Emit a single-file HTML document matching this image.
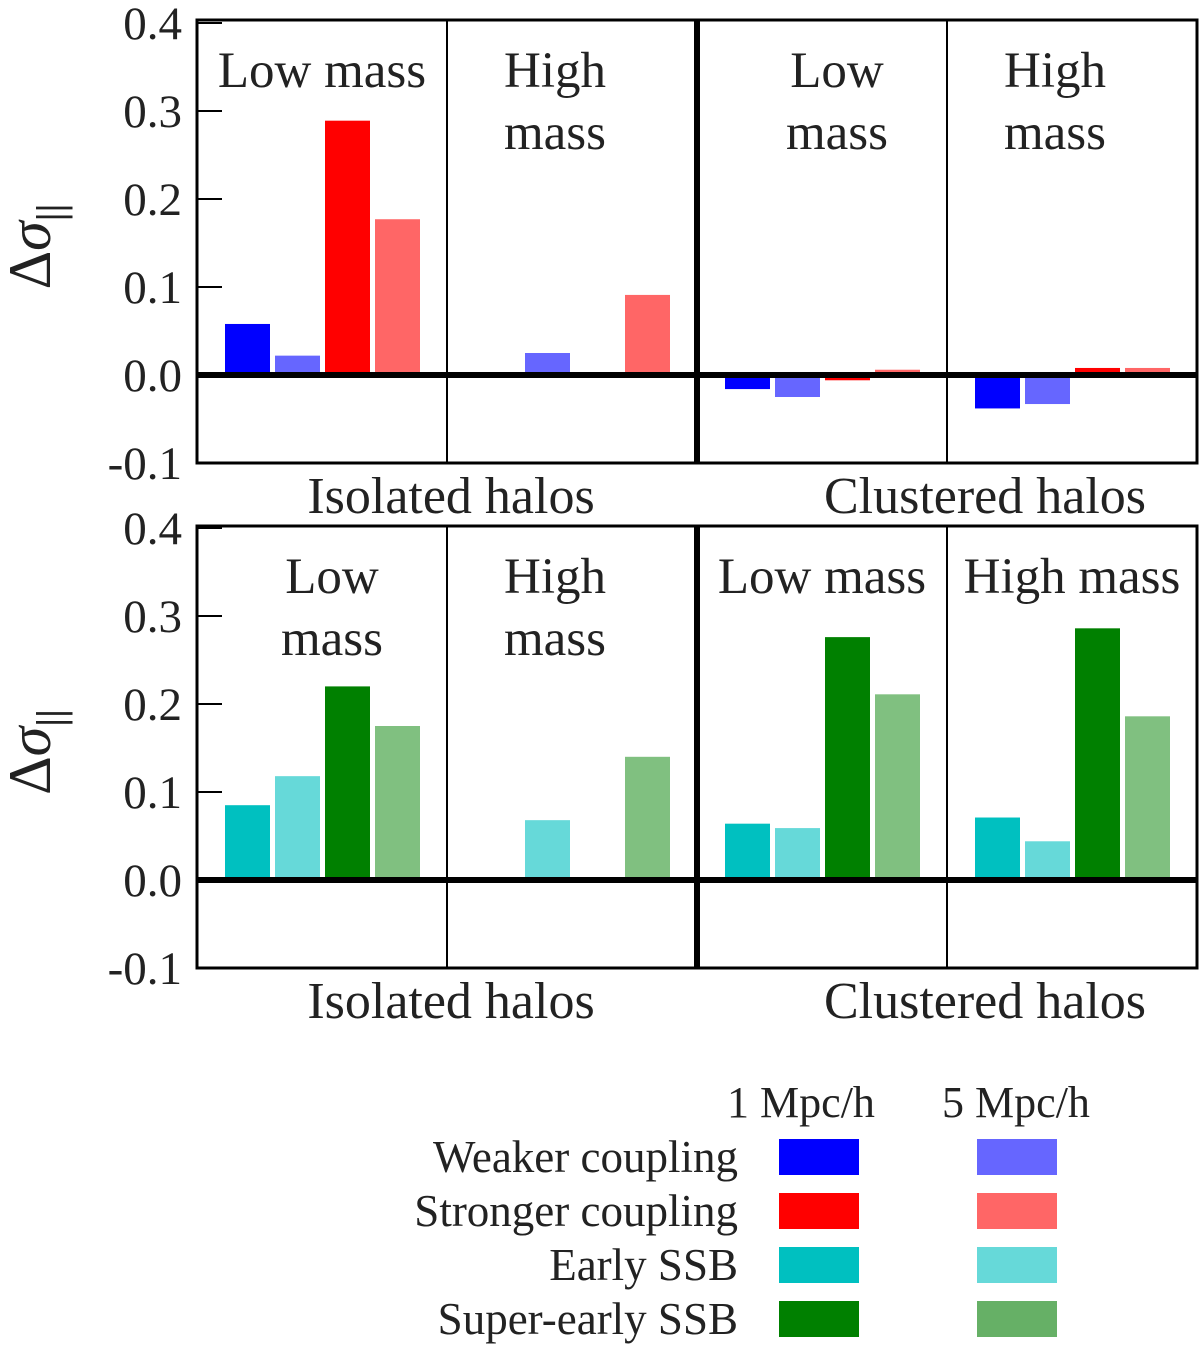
<!DOCTYPE html>
<html><head><meta charset="utf-8"><style>
body{margin:0;background:#fff}
svg text{font-family:"Liberation Serif",serif;fill:#222}
</style></head><body>
<svg width="1200" height="1348" viewBox="0 0 1200 1348" xmlns="http://www.w3.org/2000/svg">
<g id="root"></g>
</svg>
<script>
const sections = ["iso-low","iso-high","clu-low","clu-high"];
const topWeak1 = [0.058, 0, -0.016, -0.038];
const topWeak5 = [0.022, 0.025, -0.025, -0.033];
const topStrong1 = [0.289, 0, -0.006, 0.008];
const topStrong5 = [0.177, 0.091, 0.006, 0.008];
const botEarly1 = [0.085, 0, 0.064, 0.071];
const botEarly5 = [0.118, 0.068, 0.059, 0.044];
const botSuper1 = [0.220, 0, 0.276, 0.286];
const botSuper5 = [0.175, 0.140, 0.211, 0.186];
const yTicks = [0.4,0.3,0.2,0.1,0.0,-0.1];
const yTickLabels = ["0.4","0.3","0.2","0.1","0.0","-0.1"];
const topTitles = [["Low mass"],["High","mass"],["Low","mass"],["High","mass"]];
const botTitles = [["Low","mass"],["High","mass"],["Low mass"],["High mass"]];

const NS="http://www.w3.org/2000/svg";
const root=document.getElementById('root');
function el(tag,attrs,parent){const e=document.createElementNS(NS,tag);for(const k in attrs)e.setAttribute(k,attrs[k]);(parent||root).appendChild(e);return e;}

function panel(top, zeroY, series, colors, titles, pname){
  const g=el('g',{});
  
  
  const left=197,right=1197,bottom=zeroY+88;
  const y=v=>zeroY-v*880;
  const secX=i=>left+i*250;
  series.forEach((arr,si)=>{
    arr.forEach((v,i)=>{
      if(v===0)return;
      const x=secX(i)+28+si*50;
      const r=el('rect',{x:x,y:Math.min(y(v),zeroY),width:45,height:Math.abs(y(v)-zeroY),fill:colors[si]},g);
      
      
    });
  });
  el('rect',{x:left,y:top,width:right-left,height:bottom-top,fill:'none',stroke:'#000','stroke-width':3},g);
  el('line',{x1:secX(1),y1:top,x2:secX(1),y2:bottom,stroke:'#000','stroke-width':2},g);
  el('line',{x1:secX(3),y1:top,x2:secX(3),y2:bottom,stroke:'#000','stroke-width':2},g);
  el('line',{x1:secX(2),y1:top,x2:secX(2),y2:bottom,stroke:'#000','stroke-width':6},g);
  el('line',{x1:left,y1:zeroY,x2:right,y2:zeroY,stroke:'#000','stroke-width':6},g);
  yTicks.forEach((t,i)=>{
    el('line',{x1:left,y1:y(t),x2:left+25,y2:y(t),stroke:'#000','stroke-width':2},g);
    const tx=el('text',{x:182,y:y(t)+16,'text-anchor':'end','font-size':47},g);
    tx.textContent=yTickLabels[i];
    
    
  });
  titles.forEach((lines,i)=>{
    lines.forEach((s,j)=>{
      const tx=el('text',{x:secX(i)+(lines.length===1?125:(i===0?135:i===2?140:108)),y:top+67+j*62,'text-anchor':'middle','font-size':51},g);
      tx.textContent=s;
      
      
    });
  });
  const a=el('text',{x:451,y:bottom+50,'text-anchor':'middle','font-size':52},g);a.textContent="Isolated halos";
  
  const b=el('text',{x:985,y:bottom+50,'text-anchor':'middle','font-size':52},g);b.textContent="Clustered halos";
  
  const yl=el('text',{transform:`translate(50,${(top+bottom)/2+5}) rotate(-90)`,'text-anchor':'middle','font-size':60,'font-family':'"DejaVu Serif",serif'},g);
  yl.innerHTML='Δ<tspan font-style="italic">σ</tspan><tspan font-size="40" dy="14" font-weight="bold">||</tspan>';
  
}
panel(20,375,[topWeak1,topWeak5,topStrong1,topStrong5],['#0000ff','#6666ff','#ff0000','#ff6666'],topTitles,'top-panel');
panel(526,880,[botEarly1,botEarly5,botSuper1,botSuper5],['#00c0c0','#66d9d9','#008000','#80c080'],botTitles,'bottom-panel');

const lg=el('g',{});


const h1=el('text',{x:801,y:1117,'text-anchor':'middle','font-size':44},lg);h1.textContent="1 Mpc/h";
const h2=el('text',{x:1016,y:1117,'text-anchor':'middle','font-size':44},lg);h2.textContent="5 Mpc/h";
const names=["Weaker coupling","Stronger coupling","Early SSB","Super-early SSB"];
const c1=['#0000ff','#ff0000','#00c0c0','#008000'];
const c5=['#6666ff','#ff6666','#66d9d9','#66b066'];
names.forEach((n,i)=>{
  const yy=1139+i*54;
  const t=el('text',{x:738,y:yy+33,'text-anchor':'end','font-size':45},lg);t.textContent=n;
  
  const r1=el('rect',{x:779,y:yy,width:80,height:36,fill:c1[i]},lg);
  
  const r2=el('rect',{x:977,y:yy,width:80,height:36,fill:c5[i]},lg);
  
});
</script>
</body></html>
